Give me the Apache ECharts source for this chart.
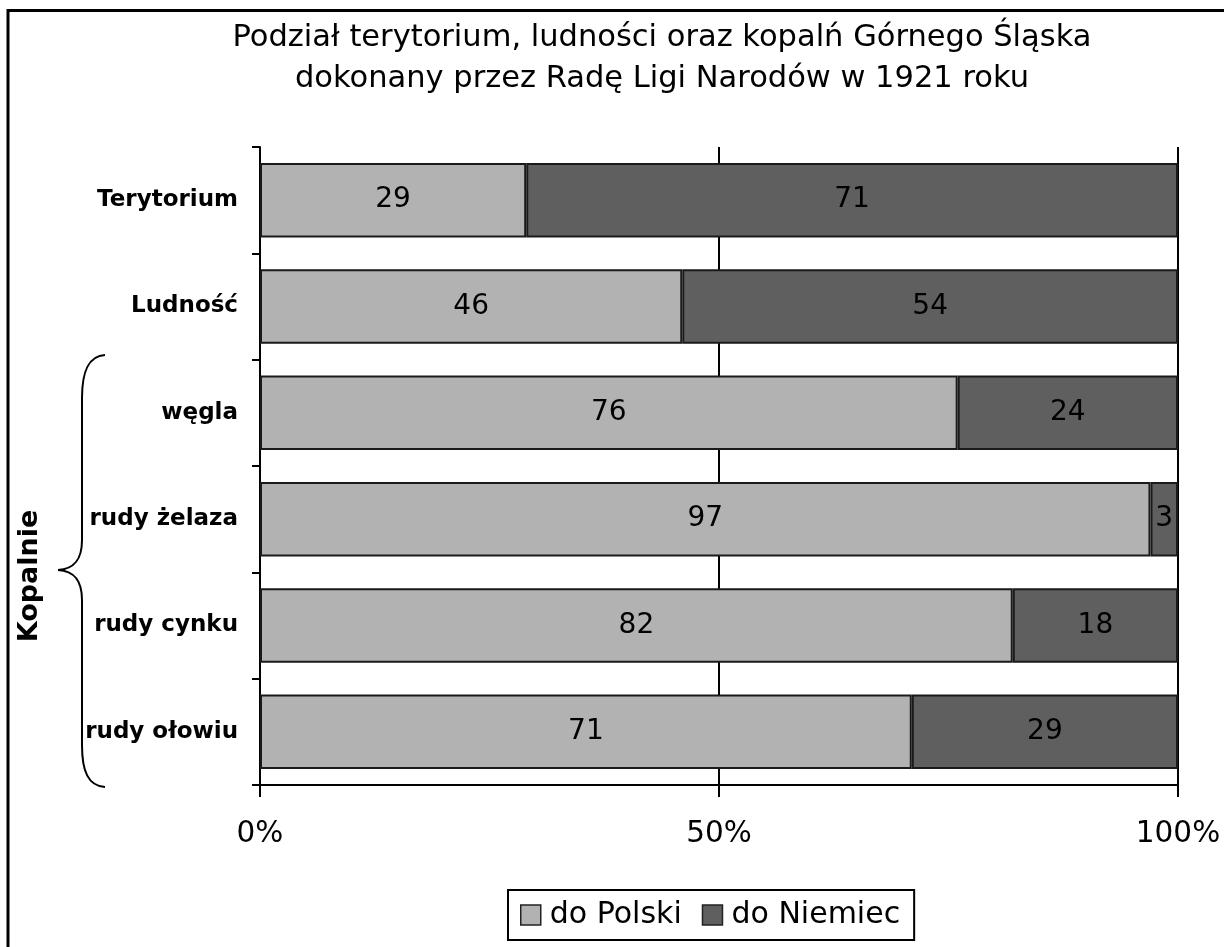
<!DOCTYPE html>
<html>
<head>
<meta charset="utf-8">
<script src="https://cdn.jsdelivr.net/npm/echarts@6/dist/echarts.min.js"></script>
<style>
  html, body { margin: 0; padding: 0; background: #fff; }
  #main { width: 1224px; height: 947px; }
</style>
</head>
<body>
<div id="main"></div>
<script>
var categories = ['Terytorium', 'Ludność', 'węgla', 'rudy żelaza', 'rudy cynku', 'rudy ołowiu'];
var doPolski = [29, 46, 76, 97, 82, 71];
var doNiemiec = [71, 54, 24, 3, 18, 29];
var seriesNames = ['do Polski', 'do Niemiec'];
var xTicks = [0, 50, 100];

var font = 'DejaVu Sans';
var chart = echarts.init(document.getElementById('main'));

// nawias klamrowy "Kopalnie"
var braceStyle = { fill: null, stroke: '#000', lineWidth: 2 };
function curve(x1, y1, c1x, c1y, c2x, c2y, x2, y2) {
    return {
        type: 'bezierCurve', silent: true, style: braceStyle,
        shape: { x1: x1, y1: y1, cpx1: c1x, cpy1: c1y, cpx2: c2x, cpy2: c2y, x2: x2, y2: y2 }
    };
}
function seg(x1, y1, x2, y2) {
    return { type: 'line', silent: true, style: braceStyle, shape: { x1: x1, y1: y1, x2: x2, y2: y2 } };
}

var option = {
    backgroundColor: '#fff',
    animation: false,
    title: {
        text: 'Podział terytorium, ludności oraz kopalń Górnego Śląska\ndokonany przez Radę Ligi Narodów w 1921 roku',
        left: 657,
        top: 13,
        textAlign: 'center',
        textStyle: {
            fontFamily: font,
            fontSize: 30.5,
            fontWeight: 'normal',
            lineHeight: 41,
            color: '#000'
        }
    },
    legend: {
        data: seriesNames,
        bottom: 7,
        left: 508,
        itemWidth: 20,
        itemHeight: 20,
        itemGap: 20,
        padding: [10, 14, 10, 12],
        borderColor: '#000',
        borderWidth: 2,
        borderRadius: 0,
        icon: 'rect',
        itemStyle: { borderColor: '#222', borderWidth: 1.5 },
        textStyle: { fontFamily: font, fontSize: 30, color: '#000', padding: [0, 0, 0, 4] }
    },
    grid: {
        left: 260,
        right: 46,
        top: 147,
        bottom: 162,
        containLabel: false
    },
    xAxis: {
        type: 'value',
        min: 0,
        max: 100,
        interval: 50,
        axisLine: { show: true, lineStyle: { color: '#000', width: 2 } },
        axisTick: { show: true, length: 12, lineStyle: { color: '#000', width: 2 } },
        splitLine: { show: true, lineStyle: { color: '#000', width: 2 } },
        axisLabel: {
            margin: 34,
            fontFamily: font,
            fontSize: 29.5,
            color: '#000',
            formatter: function (v) { return xTicks.indexOf(v) >= 0 ? v + '%' : ''; }
        }
    },
    yAxis: {
        type: 'category',
        data: categories,
        inverse: true,
        axisLine: { show: true, lineStyle: { color: '#000', width: 2 } },
        axisTick: { show: true, length: 8, lineStyle: { color: '#000', width: 2 } },
        axisLabel: {
            margin: 22,
            fontFamily: font,
            fontWeight: 'bold',
            fontSize: 23,
            color: '#000'
        }
    },
    series: [{
        name: seriesNames[0],
        type: 'bar',
        stack: 'total',
        data: doPolski,
        barCategoryGap: '30%',
        itemStyle: { color: '#b2b2b2', borderColor: '#1a1a1a', borderWidth: 2 },
        label: { show: true, position: 'inside', fontFamily: font, fontSize: 28, color: '#000' }
    }, {
        name: seriesNames[1],
        type: 'bar',
        stack: 'total',
        data: doNiemiec,
        barCategoryGap: '30%',
        itemStyle: { color: '#5f5f5f', borderColor: '#1a1a1a', borderWidth: 2 },
        label: { show: true, position: 'inside', fontFamily: font, fontSize: 28, color: '#000' }
    }],
    graphic: [{
        type: 'rect',
        silent: true,
        shape: { x: 8, y: 10.5, width: 1300, height: 1000 },
        style: { fill: null, stroke: '#000', lineWidth: 3 }
    },
        curve(105, 355, 88, 356, 82, 372, 82, 398),
        seg(82, 398, 82, 540),
        curve(82, 540, 82, 560, 74, 569, 58, 570),
        curve(58, 570, 74, 571, 82, 580, 82, 600),
        seg(82, 600, 82, 745),
        curve(82, 745, 82, 771, 88, 786, 105, 787),
    {
        type: 'text',
        silent: true,
        x: 30,
        y: 576,
        rotation: Math.PI / 2,
        style: {
            text: 'Kopalnie',
            fontFamily: font,
            fontWeight: 'bold',
            fontSize: 27,
            fill: '#000',
            align: 'center',
            verticalAlign: 'middle'
        }
    }]
};
chart.setOption(option);
</script>
</body>
</html>
